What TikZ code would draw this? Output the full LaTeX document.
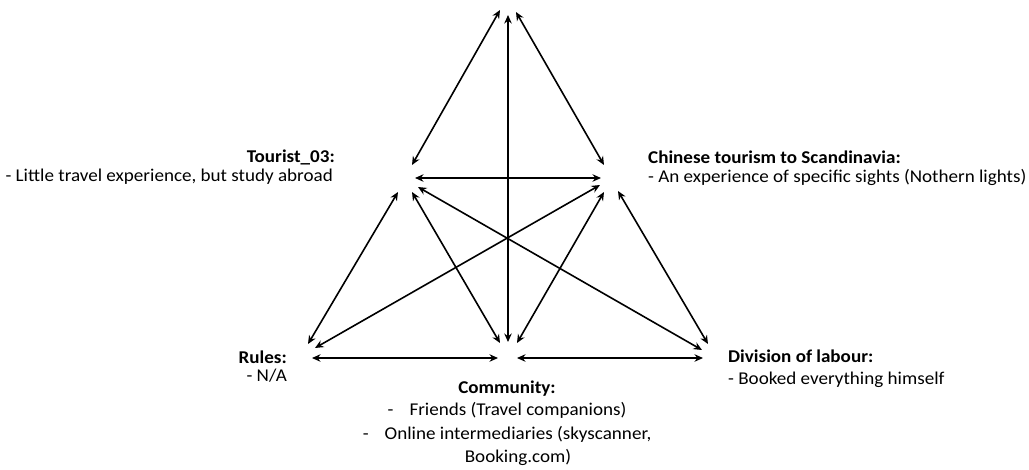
\documentclass[tikz,border=0pt]{standalone}
\usepackage{fontspec}
\setmainfont{Carlito}[FakeStretch=1.06]
\usetikzlibrary{arrows.meta}
\begin{document}
\begin{tikzpicture}[x=1pt,y=-1pt,
  link/.style={line width=1.6pt,
    {Stealth[length=8.5pt,width=7.5pt]}-{Stealth[length=8.5pt,width=7.5pt]}},
  txt/.style={inner sep=0pt, font=\fontsize{18}{15}\selectfont},
  ttl/.style={txt, font=\fontsize{18}{15}\selectfont\bfseries}]
\useasboundingbox (0,0) rectangle (1029,469);

% ---- text blocks ----
\node[ttl, anchor=base east] (tourist)  at (335,162) {Tourist\_03:};
\node[txt, anchor=base east] (touristd) at (333,181) {- Little travel experience, but study abroad};

\node[ttl, anchor=base west] (object)   at (648,163) {Chinese tourism to Scandinavia:};
\node[txt, anchor=base west] (objectd)  at (648,182) {- An experience of specific sights (Nothern lights)};

\node[ttl, anchor=base east] (rules)    at (287,363) {Rules:};
\node[txt, anchor=base east] (rulesd)   at (287,381) {- N/A};

\node[ttl, anchor=base west] (labour)   at (728,362) {Division of labour:};
\node[txt, anchor=base west] (labourd)  at (728,384) {- Booked everything himself};

\node[ttl, anchor=base] (community)  at (507,393) {Community:};
\node[txt, anchor=base] (communitya) at (518,415) {\llap{-\hspace{16pt}}Friends (Travel companions)};
\node[txt, anchor=base] (communityb) at (518,439) {\llap{-\hspace{16pt}}Online intermediaries (skyscanner,};
\node[txt, anchor=base] (communityc) at (518,462) {Booking.com)};

% ---- arrow end points ----
\coordinate (apexL) at (500,10);
\coordinate (apexM) at (508,15);
\coordinate (apexR) at (516,12);

\coordinate (subjTop)   at (412,165);
\coordinate (subjObj)   at (415,178);
\coordinate (subjRul)   at (398,192);
\coordinate (subjCom)   at (412,192);
\coordinate (subjLab)   at (418,187);

\coordinate (objTop)    at (604,165);
\coordinate (objSubj)   at (601,178);
\coordinate (objRul)    at (600,185);
\coordinate (objCom)    at (604,192);
\coordinate (objLab)    at (618,191);

\coordinate (rulSubj)   at (308,344);
\coordinate (rulObj)    at (315,348);
\coordinate (rulCom)    at (312,358);

\coordinate (comTop)    at (508,342);
\coordinate (comSubj)   at (500,343);
\coordinate (comObj)    at (517,343);
\coordinate (comRul)    at (498,358);
\coordinate (comLab)    at (517,358);

\coordinate (labSubj)   at (702,350);
\coordinate (labObj)    at (708,344);
\coordinate (labCom)    at (703,358);

% ---- connectors ----
\draw[link] (apexL) -- (subjTop);
\draw[link] (apexM) -- (comTop);
\draw[link] (apexR) -- (objTop);
\draw[link] (subjObj) -- (objSubj);
\draw[link] (subjRul) -- (rulSubj);
\draw[link] (subjCom) -- (comSubj);
\draw[link] (subjLab) -- (labSubj);
\draw[link] (objRul) -- (rulObj);
\draw[link] (objCom) -- (comObj);
\draw[link] (objLab) -- (labObj);
\draw[link] (rulCom) -- (comRul);
\draw[link] (comLab) -- (labCom);
\end{tikzpicture}
\end{document}
